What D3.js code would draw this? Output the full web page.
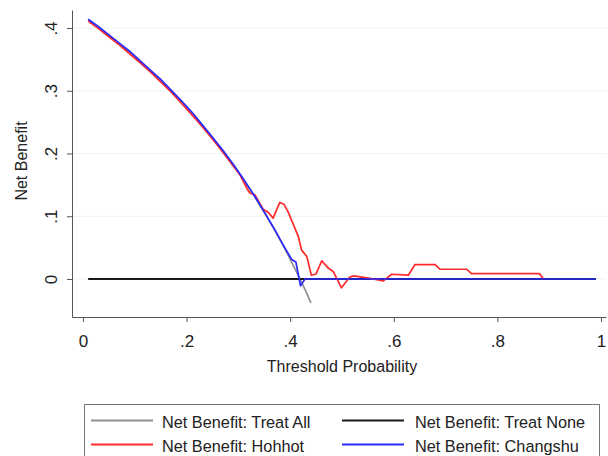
<!DOCTYPE html>
<html>
<head>
<meta charset="utf-8">
<script src="https://cdn.jsdelivr.net/npm/d3@7"></script>
<style>
    body { margin: 0; background: #fff; }
    svg { display: block; font-family: "Liberation Sans", Arial, sans-serif; }
    .grid line { stroke: #eaf2f3; stroke-width: 1; }
    .axis path, .axis line { stroke: #555; }
    .axis text { fill: #222; font-size: 17px; }
    .series { fill: none; stroke-linejoin: round; }
</style>
</head>
<body>
<div id="chart"></div>
<script>
// values
var treatAll = [
    [0.01, 0.413], [0.03, 0.401], [0.05, 0.388], [0.07, 0.375], [0.09, 0.362],
    [0.11, 0.347], [0.13, 0.332], [0.15, 0.317], [0.17, 0.300], [0.19, 0.283],
    [0.21, 0.265], [0.23, 0.245], [0.25, 0.225], [0.27, 0.204], [0.29, 0.182],
    [0.31, 0.158], [0.33, 0.133], [0.35, 0.106], [0.37, 0.078], [0.39, 0.048],
    [0.41, 0.015], [0.43, -0.019], [0.44, -0.038]
];
var treatNone = [[0.01, 0], [0.99, 0]];
var hohhot = [
    [0.01, 0.411], [0.03, 0.399], [0.05, 0.386], [0.07, 0.373], [0.09, 0.359],
    [0.11, 0.345], [0.13, 0.330], [0.15, 0.314], [0.17, 0.298], [0.19, 0.280],
    [0.21, 0.262], [0.23, 0.243], [0.25, 0.223], [0.27, 0.202], [0.29, 0.180],
    [0.303, 0.166], [0.316, 0.145], [0.322, 0.137], [0.332, 0.134], [0.348, 0.111],
    [0.358, 0.106], [0.367, 0.097], [0.380, 0.122], [0.388, 0.119], [0.396, 0.107],
    [0.409, 0.081], [0.416, 0.067], [0.422, 0.046], [0.432, 0.036], [0.441, 0.006],
    [0.450, 0.008], [0.461, 0.029], [0.474, 0.017], [0.483, 0.012], [0.499, -0.014],
    [0.515, 0.003], [0.523, 0.005], [0.554, 0.001], [0.580, -0.003], [0.596, 0.0075],
    [0.628, 0.006], [0.641, 0.023], [0.680, 0.023], [0.689, 0.0155], [0.741, 0.0155],
    [0.750, 0.0085], [0.881, 0.0085], [0.889, 0]
];
var changshu = [
    [0.01, 0.414], [0.03, 0.402], [0.05, 0.389], [0.07, 0.376], [0.09, 0.363],
    [0.11, 0.348], [0.13, 0.333], [0.15, 0.318], [0.17, 0.301], [0.19, 0.284],
    [0.21, 0.266], [0.23, 0.246], [0.25, 0.226], [0.27, 0.205], [0.29, 0.183],
    [0.31, 0.159], [0.33, 0.134], [0.35, 0.107], [0.37, 0.079], [0.38, 0.064],
    [0.39, 0.049], [0.403, 0.031], [0.411, 0.027], [0.420, -0.011], [0.4286, 0],
    [0.99, 0]
];

var xTicks = [0, 0.2, 0.4, 0.6, 0.8, 1];
var xTickLabels = ["0", ".2", ".4", ".6", ".8", "1"];
var yTicks = [0, 0.1, 0.2, 0.3, 0.4];
var yTickLabels = ["0", ".1", ".2", ".3", ".4"];

var seriesNames = ["Net Benefit: Treat All", "Net Benefit: Treat None",
                   "Net Benefit: Hohhot", "Net Benefit: Changshu"];
var seriesData = [treatAll, treatNone, hohhot, changshu];
var colors = ["#8f8f8f", "#1a1a1a", "#ff2a2a", "#2a2aff"];

var width = 608, height = 456;

var svg = d3.select("#chart").append("svg")
    .attr("width", width)
    .attr("height", height);

// the plot region has some slack round the data range, like Stata does
var x = d3.scaleLinear().domain([-0.0212, 1.0097]).range([72, 606]);
var y = d3.scaleLinear().domain([-0.0606, 0.4287]).range([317, 10]);

// horizontal grid
svg.append("g")
    .attr("class", "grid")
    .selectAll("line")
    .data(yTicks)
    .enter()
    .append("line")
    .attr("x1", 73)
    .attr("x2", 606)
    .attr("y1", function(d) { return y(d); })
    .attr("y2", function(d) { return y(d); });

var xAxis = svg.append("g")
    .attr("class", "axis")
    .attr("transform", "translate(0,317)")
    .call(d3.axisBottom(x)
        .tickValues(xTicks)
        .tickSize(5)
        .tickSizeOuter(0)
        .tickFormat(function(d, i) { return xTickLabels[i]; }));
xAxis.selectAll("text").attr("y", 17.5);

var yAxis = svg.append("g")
    .attr("class", "axis")
    .attr("transform", "translate(72,0)")
    .call(d3.axisLeft(y)
        .tickValues(yTicks)
        .tickSize(5)
        .tickSizeOuter(0)
        .tickFormat(function(d, i) { return yTickLabels[i]; }));
// Stata writes y labels turned on their side
yAxis.selectAll("text")
    .attr("x", null)
    .attr("dy", null)
    .attr("text-anchor", "middle")
    .attr("transform", "translate(-15,0) rotate(-90)");

svg.append("text")
    .attr("x", 342)
    .attr("y", 372)
    .attr("text-anchor", "middle")
    .style("font-size", "16px")
    .style("fill", "#222")
    .text("Threshold Probability");

svg.append("text")
    .attr("transform", "translate(26.5,161) rotate(-90)")
    .attr("text-anchor", "middle")
    .style("font-size", "16px")
    .style("fill", "#222")
    .text("Net Benefit");

// the lines, drawn in legend order so Changshu sits on top
var line = d3.line()
    .x(function(d) { return x(d[0]); })
    .y(function(d) { return y(d[1]); });

svg.append("g").selectAll("path")
    .data(seriesData)
    .enter()
    .append("path")
    .attr("class", "series")
    .attr("d", line)
    .style("stroke", function(d, i) { return colors[i]; })
    .style("stroke-width", function(d, i) { return i === 1 ? 2 : 1.7; });

// legend box at the bottom, partly cut off by the frame
var legend = svg.append("g");
legend.append("rect")
    .attr("x", 84.5)
    .attr("y", 404.5)
    .attr("width", 515)
    .attr("height", 70)
    .style("fill", "#fff")
    .style("stroke", "#777");

var items = legend.selectAll(".item")
    .data(seriesNames)
    .enter()
    .append("g")
    .attr("class", "item")
    .attr("transform", function(d, i) {
        return "translate(" + (i % 2 === 0 ? 91 : 342) + "," + (i < 2 ? 420.5 : 444.5) + ")";
    });

items.append("line")
    .attr("x1", 0)
    .attr("x2", 62)
    .style("stroke", function(d, i) { return colors[i]; })
    .style("stroke-width", 2);

items.append("text")
    .attr("x", function(d, i) { return i % 2 === 0 ? 71 : 73; })
    .attr("y", 7.5)
    .style("font-size", "16.3px")
    .style("fill", "#222")
    .text(function(d) { return d; });
</script>
</body>
</html>
